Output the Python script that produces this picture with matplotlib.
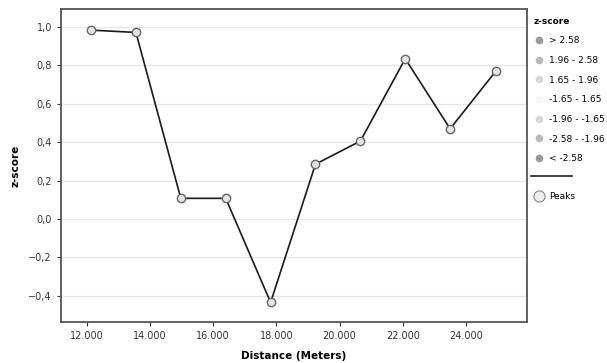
import matplotlib
matplotlib.use("Agg")
import matplotlib.pyplot as plt
from matplotlib.lines import Line2D
from matplotlib.ticker import FuncFormatter

distance = [12136, 13557, 14978, 16400, 17820, 19240, 20660, 22080, 23500, 24940]
zscore = [0.984, 0.972, 0.108, 0.108, -0.434, 0.286, 0.406, 0.835, 0.470, 0.769]
x_ticks = [12000, 14000, 16000, 18000, 20000, 22000, 24000]
y_ticks = [-0.4, -0.2, 0.0, 0.2, 0.4, 0.6, 0.8, 1.0]
legend_labels = ["> 2.58", "1.96 - 2.58", "1.65 - 1.96", "-1.65 - 1.65",
                 "-1.96 - -1.65", "-2.58 - -1.96", "< -2.58"]
legend_colors = ["#9a9a9a", "#b8b8b8", "#d8d8d8", "#f6f6f6", "#d8d8d8", "#b8b8b8", "#9a9a9a"]

plt.rcParams['font.family'] = ['DejaVu Sans']
fig = plt.figure(figsize=(6.07, 3.63), dpi=100)
ax = fig.add_axes([61/607, 1-322/363, (527-61)/607, (322-9)/363])

ax.plot(distance, zscore, color="#1a1a1a", lw=1.2, zorder=3,
        marker="o", markersize=6, markerfacecolor="#e4e4e4",
        markeredgecolor="#666666", markeredgewidth=1.0)

ax.set_xlim(11187, 25933)
ax.set_ylim(-0.536, 1.094)
ax.set_xticks(x_ticks)
ax.set_yticks(y_ticks)
ax.xaxis.set_major_formatter(FuncFormatter(lambda v, p: f"{v:,.0f}".replace(",", ".")))
ax.yaxis.set_major_formatter(FuncFormatter(lambda v, p: (f"{v:.1f}".replace(".", ",")).replace("-", "\u2212")))
ax.tick_params(labelsize=7, colors="#333333", length=3, width=0.8)
ax.grid(axis="y", color="#e6e6e6", lw=0.9)
ax.set_axisbelow(True)
for s in ax.spines.values():
    s.set_color("#555555")
    s.set_linewidth(1.3)

ax.set_xlabel("Distance (Meters)", fontsize=7.5, fontweight="bold", labelpad=7)
ax.set_ylabel("z-score", fontsize=7.5, fontweight="bold", labelpad=6)

handles = [Line2D([], [], ls="none", marker="o", markersize=4.5, markerfacecolor=c,
                  markeredgecolor=c) for c in legend_colors]
leg = fig.legend(handles, legend_labels, title="z-score", loc="upper left",
                 bbox_to_anchor=(525/607, 1-8.5/363), frameon=False, fontsize=6.5,
                 title_fontproperties={"size": 6.5, "weight": "bold"},
                 handlelength=1.2, handletextpad=0.6, labelspacing=1.18,
                 alignment="left")

fig.add_artist(Line2D([531/607, 572/607], [1-176/363, 1-176/363], color="#222222", lw=1.2))

peak_handle = Line2D([], [], ls="none", marker="o", markersize=8,
                     markerfacecolor="#eeeeee", markeredgecolor="#888888", markeredgewidth=0.8)
fig.legend([peak_handle], ["Peaks"], loc="upper left",
           bbox_to_anchor=(525/607, 1-184/363), frameon=False, fontsize=6.5,
           handlelength=1.2, handletextpad=0.6)

fig.savefig("out.png", dpi=100)
